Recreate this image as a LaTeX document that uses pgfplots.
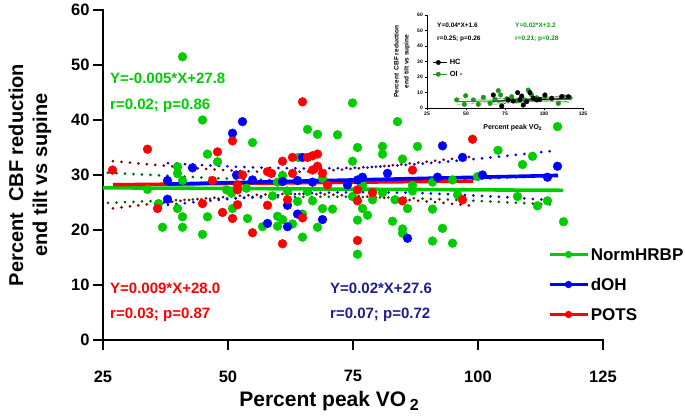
\documentclass[border=0pt]{standalone}
\usepackage{pgfplots}
\pgfplotsset{compat=1.18}
\usepackage{fontspec}
\setmainfont{Liberation Sans}
\definecolor{ngreen}{RGB}{0,204,0}
\definecolor{nblue}{RGB}{0,0,255}
\definecolor{nred}{RGB}{255,0,0}
\definecolor{navytext}{RGB}{30,30,140}
\definecolor{dkred}{RGB}{140,0,0}
\definecolor{dkgreen}{RGB}{0,100,0}
\definecolor{igreen}{RGB}{30,150,30}
\tikzset{dotband/.style={line width=3pt, dash pattern=on 0pt off 8.5pt, line cap=round},
  idot/.style={line width=0.5pt, dash pattern=on 0.6pt off 0.7pt}}
\begin{document}
\begin{tikzpicture}
\path[use as bounding box] (-103pt,-78pt) rectangle (582pt,340pt);
\begin{axis}[
  at={(0pt,0pt)}, anchor=south west,
  scale only axis, width=500pt, height=330pt,
  xmin=25, xmax=125, ymin=0, ymax=60,
  axis x line*=bottom, axis y line*=left,
  axis line style={line width=2.4pt, -, line cap=rect},
  every tick/.style={line width=2.4pt, black},
  major tick length=10pt, tick align=outside,
  xtick={25,50,75,100,125}, ytick={0,10,20,30,40,50,60},
  /pgf/number format/assume math mode=true,
  ticklabel style={font=\fontsize{16.5}{16.5}\selectfont\bfseries},
  xticklabel style={yshift=-17pt},
  clip=false,
  xlabel={Percent peak VO\,\raisebox{-0.4ex}{\fontsize{16}{16}\selectfont 2}},
  xlabel style={at={(axis description cs:0.452,0)}, anchor=base, yshift=-66pt, font=\fontsize{21}{21}\selectfont\bfseries},
  ylabel={Percent\ \ CBF reduction\\end tilt vs supine},
  ylabel style={at={(axis description cs:-0.146,0.5)}, anchor=center, align=center, font=\fontsize{20}{24}\selectfont\bfseries},
  legend style={at={(0.884,0.29)}, anchor=north west, draw=none, fill=none, font=\fontsize{17}{17}\selectfont\bfseries, row sep=14pt, nodes={text height=12pt, text depth=0pt, inner sep=2pt}},
  legend cell align=left,
  legend image code/.code={\draw[#1,line width=2.6pt] (0pt,0pt) -- (38pt,0pt); \fill[#1] (19pt,0pt) circle (3.4pt);},
]
\addlegendimage{color=ngreen}
\addlegendimage{color=nblue}
\addlegendimage{color=nred}
\legend{NormHRBP,dOH,POTS}
% confidence bands
\addplot[dkgreen, dotband, smooth, forget plot] coordinates {(26,30.41)(35,29.99)(45,29.55)(55,29.18)(65,28.93)(72,28.84)(80,28.86)(90,29.03)(100,29.31)(110,29.65)(116,29.88)};
\addplot[dkgreen, dotband, smooth, forget plot] coordinates {(26,24.93)(35,25.27)(45,25.61)(55,25.88)(65,26.03)(72,26.04)(80,25.94)(90,25.67)(100,25.29)(110,24.85)(116,24.56)};
\addplot[nblue, dotband, smooth, forget plot] coordinates {(38,32.15)(45,31.80)(55,31.39)(65,31.19)(72,31.24)(80,31.52)(90,32.14)(100,32.96)(108,33.70)(115,34.39)};
\addplot[nblue, dotband, smooth, forget plot] coordinates {(38,24.57)(45,25.20)(55,26.01)(65,26.61)(72,26.84)(80,26.88)(90,26.66)(100,26.24)(108,25.82)(115,25.41)};
\addplot[dkred, dotband, smooth, forget plot] coordinates {(27,32.54)(35,31.87)(45,31.13)(55,30.64)(62,30.56)(70,30.81)(80,31.52)(90,32.45)(99,33.38)};
\addplot[dkred, dotband, smooth, forget plot] coordinates {(27,23.94)(35,24.77)(45,25.69)(55,26.36)(62,26.56)(70,26.45)(80,25.92)(90,25.17)(99,24.40)};
% points
\addplot[only marks, mark=*, mark size=4.4pt, ngreen, mark options={fill=ngreen, draw=ngreen}, forget plot] coordinates {
(40.9,51.5)(44.9,40.0)(54.9,35.9)(45.9,33.8)(47.9,32.4)(39.9,31.5)(39.9,30.3)(40.9,29.0)(33.9,27.4)(49.7,27.3)
(50.7,26.7)(53.7,27.6)(36.1,24.8)(39.9,23.9)(50.9,23.9)(40.9,22.4)(45.9,22.4)(53.9,22.1)(36.9,20.5)(40.9,20.5)
(44.9,19.2)(65.9,38.3)(67.9,37.4)(71.9,37.3)(83.9,39.7)(75.9,35.0)(80.9,35.2)(80.9,33.8)(87.9,35.2)(64.1,33.2)
(74.9,32.5)(84.9,32.9)(60.9,29.9)(68.9,29.4)(59.9,28.7)(76.9,28.1)(80.9,26.8)(61.9,27.1)(65.9,27.0)(86.9,27.1)
(74.9,26.1)(78.9,25.5)(63.9,25.2)(66.9,25.3)(83.4,25.5)(58.9,26.2)(68.9,23.9)(70.9,23.8)(64.9,22.9)(76.9,23.9)
(77.9,22.7)(85.9,23.9)(59.9,22.5)(60.9,21.9)(62.9,21.1)(56.9,20.6)(59.9,20.7)(67.9,20.5)(75.9,21.8)(82.9,21.6)
(64.9,18.7)(84.9,20.2)(84.9,19.4)(90.9,18.0)(92.9,20.3)(75.9,15.6)(94.9,17.6)(90.9,23.8)(90.9,28.7)(104.0,34.5)
(110.9,33.4)(108.9,31.9)(94.9,29.1)(99.9,29.7)(86.9,28.1)(95.9,26.4)(107.9,26.1)(113.9,25.3)(111.9,24.4)(115.9,38.8)
(117.1,21.5)(74.9,43.1)};
\addplot[only marks, mark=*, mark size=4.4pt, nblue, mark options={fill=nblue, draw=nblue}, forget plot] coordinates {
(52.9,39.7)(50.9,37.6)(42.9,31.3)(51.7,30.0)(37.9,29.0)(54.9,29.1)(37.9,25.6)(64.9,33.2)(81.9,30.3)(60.9,28.8)
(63.9,29.0)(66.9,28.7)(75.9,29.1)(76.9,29.6)(73.9,28.2)(61.9,24.5)(63.9,22.9)(61.9,20.6)(57.9,21.2)(68.9,21.9)
(85.9,18.5)(92.9,35.3)(91.9,29.6)(96.9,33.2)(100.9,30.0)(113.9,29.6)(115.9,31.6)};
\addplot[only marks, mark=*, mark size=4.4pt, nred, mark options={fill=nred, draw=nred}, forget plot] coordinates {
(50.9,36.2)(33.9,34.7)(47.9,34.2)(26.9,30.9)(52.9,30.0)(46.9,29.0)(51.9,28.2)(51.9,27.3)(35.9,23.9)(44.9,24.8)
(51.9,24.6)(48.9,23.2)(50.9,22.1)(54.9,19.5)(64.9,43.3)(60.9,32.5)(62.9,33.2)(65.9,33.2)(66.9,33.5)(67.9,33.8)
(67.9,31.6)(66.9,30.9)(57.9,30.6)(58.7,30.3)(62.9,30.3)(68.9,30.3)(86.9,30.9)(69.9,28.2)(75.9,27.3)(78.9,26.8)
(75.9,25.3)(61.9,25.5)(84.9,25.3)(57.9,24.5)(64.9,22.2)(60.9,17.5)(75.9,18.1)(98.9,36.5)(96.9,25.5)};
% regression lines
\addplot[ngreen, line width=3.6pt, forget plot] coordinates {(25,27.675)(117,27.215)};
\addplot[nred, line width=3.4pt, forget plot] coordinates {(27,28.243)(99,28.891)};
\addplot[nblue, line width=3.6pt, forget plot] coordinates {(38,28.36)(116,29.92)};
\end{axis}
% inset
\begin{axis}[
  at={(324pt,232pt)}, anchor=south west,
  scale only axis, width=156pt, height=93pt,
  xmin=25, xmax=125, ymin=0, ymax=60,
  axis x line*=bottom, axis y line*=left,
  axis line style={line width=0.9pt, -},
  every tick/.style={line width=0.9pt, black},
  major tick length=2.5pt, tick align=outside,
  xtick={25,50,75,100,125}, ytick={0,10,20,30,40,50,60},
  /pgf/number format/assume math mode=true,
  ticklabel style={font=\fontsize{5}{5}\selectfont\bfseries, inner sep=1.5pt},
  clip=false,
  xlabel={Percent peak VO\textsubscript{2}},
  xlabel style={at={(axis description cs:0.55,0)}, anchor=base, yshift=-21pt, font=\fontsize{7}{7}\selectfont\bfseries},
  ylabel={Percent\ \ CBF reduction\\end tilt vs supine},
  ylabel style={at={(axis description cs:-0.16,0.5)}, anchor=center, align=center, font=\fontsize{6.5}{10}\selectfont\bfseries},
  legend style={at={(0.03,0.56)}, anchor=north west, draw=none, fill=none, font=\fontsize{7.5}{7.5}\selectfont\bfseries, row sep=1pt, inner sep=1pt},
  legend cell align=left,
  legend image code/.code={\draw[#1,line width=0.9pt] (0pt,0pt) -- (14pt,0pt); \fill[#1] (5pt,0pt) circle (2.2pt);},
]
\addlegendimage{color=black}
\addlegendimage{color=igreen}
\legend{HC,OI -}
\addplot[black, idot, forget plot] coordinates {(67,6.28)(80,6.1)(92,6.28)(104,7.06)(116,8.24)};
\addplot[black, idot, forget plot] coordinates {(67,2.28)(80,3.5)(92,4.28)(104,4.46)(116,4.24)};
\addplot[igreen, idot, forget plot] coordinates {(44,5.88)(60,5.6)(80,5.8)(100,6.4)(117,7.44)};
\addplot[igreen, idot, forget plot] coordinates {(44,2.28)(60,3.2)(80,3.8)(100,4.0)(117,3.64)};
\addplot[only marks, mark=*, mark size=2.3pt, igreen, mark options={fill=igreen, draw=igreen}, forget plot] coordinates {
(44.0,5.2)(48.9,2.4)(49.8,7.9)(54.7,5.2)(57.9,2.4)(61.1,6.9)(65.4,3.0)(68.6,5.6)(70.7,11.2)(72.2,8.4)
(76.1,6.0)(79.3,7.3)(82.5,4.5)(84.6,5.6)(87.8,5.2)(89.9,11.6)(92.1,8.4)(95.3,6.6)(100.6,7.3)(109.2,3.0)
(112.4,7.3)(116.7,6.6)};
\addplot[only marks, mark=*, mark size=2.3pt, black, mark options={fill=black, draw=black}, forget plot] coordinates {
(67.5,8.4)(72.9,1.3)(77.1,5.2)(80.3,4.5)(83.1,9.9)(84.6,5.2)(85.7,7.7)(86.7,1.9)(88.9,4.1)(91.0,9.9)
(93.1,6.3)(95.3,5.2)(97.4,5.6)(100.6,8.4)(104.9,6.3)(111.3,7.3)(115.6,7.3)};
\addplot[igreen, line width=1pt, forget plot] coordinates {(44,4.08)(117,5.54)};
\addplot[black, line width=1pt, forget plot] coordinates {(67,4.28)(116,6.24)};
\end{axis}
% annotations (main)
\node[anchor=base west, inner sep=0pt, text=ngreen, font=\fontsize{15}{15}\selectfont\bfseries] at (7pt,256.5pt) {Y=-0.005*X+27.8};
\node[anchor=base west, inner sep=0pt, text=ngreen, font=\fontsize{15}{15}\selectfont\bfseries] at (7pt,230.5pt) {r=0.02; p=0.86};
\node[anchor=base west, inner sep=0pt, text=nred, font=\fontsize{15}{15}\selectfont\bfseries] at (7pt,46.5pt) {Y=0.009*X+28.0};
\node[anchor=base west, inner sep=0pt, text=nred, font=\fontsize{15}{15}\selectfont\bfseries] at (7pt,21.5pt) {r=0.03; p=0.87};
\node[anchor=base west, inner sep=0pt, text=navytext, font=\fontsize{15}{15}\selectfont\bfseries] at (227pt,46.5pt) {Y=0.02*X+27.6};
\node[anchor=base west, inner sep=0pt, text=navytext, font=\fontsize{15}{15}\selectfont\bfseries] at (227pt,21.5pt) {r=0.07; p=0.72};
% annotations (inset)
\node[anchor=base west, inner sep=0pt, text=black, font=\fontsize{6.5}{6.5}\selectfont\bfseries] at (334pt,312.5pt) {Y=0.04*X+1.6};
\node[anchor=base west, inner sep=0pt, text=black, font=\fontsize{6.5}{6.5}\selectfont\bfseries] at (334pt,299.5pt) {r=0.25; p=0.26};
\node[anchor=base west, inner sep=0pt, text=igreen, font=\fontsize{6.5}{6.5}\selectfont\bfseries] at (412pt,312.5pt) {Y=0.02*X+3.2};
\node[anchor=base west, inner sep=0pt, text=igreen, font=\fontsize{6.5}{6.5}\selectfont\bfseries] at (412pt,299.5pt) {r=0.21; p=0.28};
\end{tikzpicture}
\end{document}
